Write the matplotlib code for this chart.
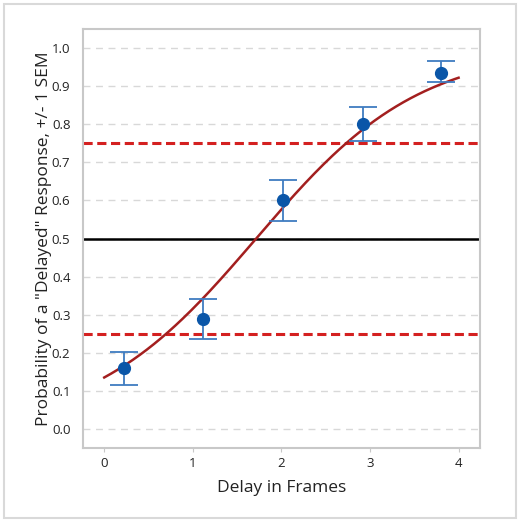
import numpy as np
import matplotlib.pyplot as plt
from matplotlib.patches import Rectangle

# observed points (delay in frames, probability, SEM bar ends)
delay = [0.22, 1.12, 2.02, 2.92, 3.80]
prob = [0.160, 0.290, 0.600, 0.800, 0.935]
err_low = [0.045, 0.053, 0.055, 0.045, 0.025]
err_high = [0.042, 0.050, 0.055, 0.045, 0.030]

# fitted logistic curve parameters
fit_mid = 1.715
fit_scale = 0.924
fit_range = [0.0, 4.0]

ref_lines = [0.25, 0.75]
chance_line = 0.5

plt.rcParams['font.family'] = ['Open Sans', 'DejaVu Sans']

fig = plt.figure(figsize=(5.25, 5.23), dpi=100)
fig.patches.append(Rectangle((4 / 525, 1 - 518 / 523), 512 / 525, 514 / 523,
                             transform=fig.transFigure, fill=False,
                             edgecolor='#d9d9d9', linewidth=1.5))
ax = fig.add_axes([0.158, 0.1434, 0.756, 0.801])

ax.set_xlim(-0.24, 4.24)
ax.set_ylim(-0.05, 1.05)
ax.set_yticks(np.arange(0, 1.01, 0.1))
ax.set_xticks([0, 1, 2, 3, 4])
ax.yaxis.grid(True, color='#d8d8d8', linestyle=(0, (5, 4)), linewidth=1)
ax.set_axisbelow(True)

for y in ref_lines:
    ax.axhline(y, color='#d42020', linestyle=(0, (3, 1.5)), linewidth=2.2, zorder=2)
ax.axhline(chance_line, color='black', linewidth=1.8, zorder=2)

xs = np.linspace(fit_range[0], fit_range[1], 200)
ax.plot(xs, 1 / (1 + np.exp(-(xs - fit_mid) / fit_scale)), color='#a31f1f', linewidth=1.8, zorder=3)

ax.errorbar(delay, prob, yerr=[err_low, err_high], fmt='none', ecolor='#3f7cc0',
            elinewidth=1.3, capsize=10, capthick=1.3, zorder=4)
ax.plot(delay, prob, 'o', color='#0a56a8', markersize=8.5, zorder=5)

for s in ax.spines.values():
    s.set_color('#c8c8c8')
    s.set_linewidth(1.5)
ax.tick_params(colors='#c8c8c8', labelcolor='#222222', labelsize=9.5, length=3)
ax.tick_params(axis='y', length=0, pad=9)

ax.set_xlabel('Delay in Frames', fontsize=12.5, color='#222222', labelpad=7)
ax.set_ylabel('Probability of a "Delayed" Response, +/- 1 SEM', fontsize=12.5,
              color='#222222', labelpad=0)

fig.savefig('out.png', dpi=100)
